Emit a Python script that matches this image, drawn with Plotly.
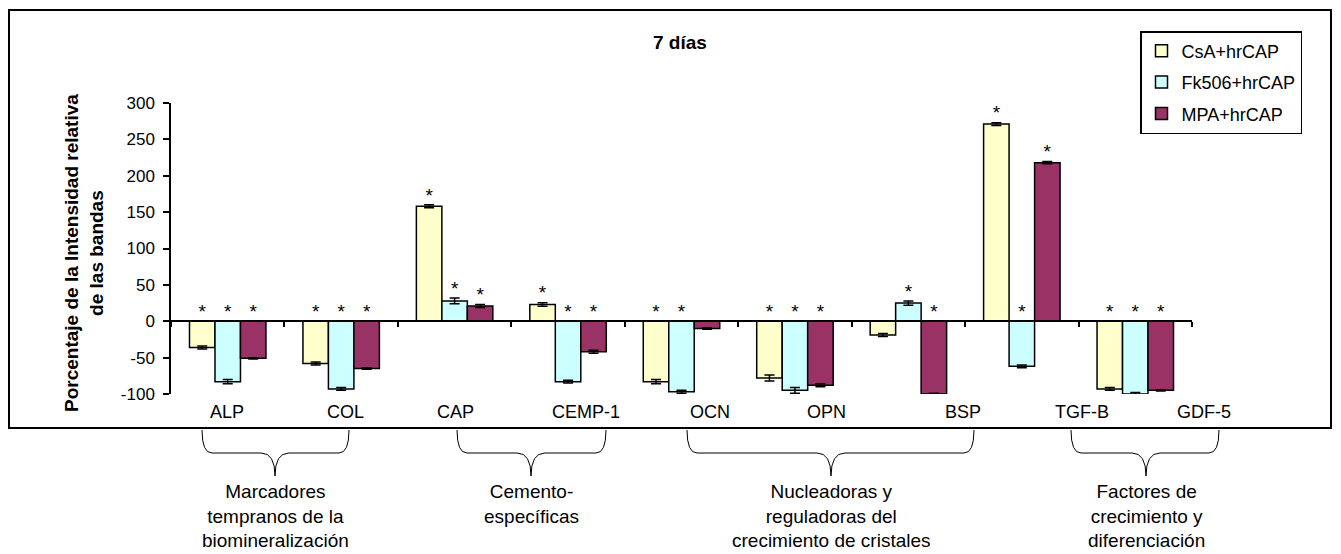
import plotly.graph_objects as go

# ---------------- data ----------------
categories = ["ALP", "COL", "CAP", "CEMP-1", "OCN", "OPN", "BSP", "TGF-B", "GDF-5"]
series_names = ["CsA+hrCAP", "Fk506+hrCAP", "MPA+hrCAP"]
csa = [-36, -58, 158, 23, -83, -78, -19, 271, -93]
fk506 = [-83, -93, 28, -83, -97, -95, 25, -62, -100]
mpa = [-51, -65, 21, -42, -10, -88, -100, 218, -95]
csa_err = [2, 2, 2, 2.5, 3, 4, 2, 2, 2]
fk506_err = [3, 2, 4, 2, 2, 4, 3, 2, 2]
mpa_err = [1, 1, 2, 2, 1, 2, 1, 1.5, 1]
# significance marks (1 = asterisk)
csa_sig = [1, 1, 1, 1, 1, 1, 0, 1, 1]
fk506_sig = [1, 1, 1, 1, 1, 1, 1, 1, 1]
mpa_sig = [1, 1, 1, 1, 0, 1, 1, 1, 1]
y_ticks = [-100, -50, 0, 50, 100, 150, 200, 250, 300]
groups = [
    "Marcadores<br>tempranos de la<br>biomineralización",
    "Cemento-<br>específicas",
    "Nucleadoras y<br>reguladoras del<br>crecimiento de cristales",
    "Factores de<br>crecimiento y<br>diferenciación",
]

# ---------------- style ----------------
colors = ["#FFFFCC", "#CCFFFF", "#993366"]
FONT = "Arial, Liberation Sans, sans-serif"
NARROW = "Liberation Sans Narrow, Arial Narrow, Liberation Sans, Arial, sans-serif"
W_PX, H_PX = 1341, 554
L, R, T, B = 171, 1192, 103, 394

def px(x):
    return (x - L) / (R - L)

def py(y):
    return (B - y) / (B - T)

fig = go.Figure()
vals = [csa, fk506, mpa]
errs = [csa_err, fk506_err, mpa_err]
sigs = [csa_sig, fk506_sig, mpa_sig]

for i, name in enumerate(series_names):
    fig.add_trace(go.Bar(
        x=categories, y=vals[i], name=name, offsetgroup=str(i), legendgroup=str(i),
        marker=dict(color=colors[i], line=dict(color="black", width=1.5)),
        error_y=dict(type="data", array=errs[i], visible=True, color="black",
                     thickness=1.5, width=5),
        hoverinfo="skip",
    ))

for i in range(3):
    ys = [max(v + (e if v > 0 else 0), 0) + 11 for v, e in zip(vals[i], errs[i])]
    txt = ["*" if s else "" for s in sigs[i]]
    fig.add_trace(go.Scatter(
        x=categories, y=ys, text=txt, mode="text", offsetgroup=str(i),
        textposition="middle center", textfont=dict(family=FONT, size=19, color="black"),
        showlegend=False, hoverinfo="skip",
    ))

fig.update_layout(
    width=W_PX, height=H_PX,
    margin=dict(l=L, r=W_PX - R, t=T, b=H_PX - B, pad=0),
    paper_bgcolor="white", plot_bgcolor="white",
    barmode="group", bargap=0.326, bargroupgap=0,
    scattermode="group", scattergap=0.326,
    font=dict(family=FONT, size=17, color="black"),
    showlegend=True,
    legend=dict(
        x=px(1140), y=py(31), xanchor="left", yanchor="top",
        bordercolor="black", borderwidth=1.5, bgcolor="white",
        font=dict(family=FONT, size=18, color="black"),
        tracegroupgap=5, traceorder="grouped",
    ),
    xaxis=dict(
        type="category", range=[-0.5, 8.5], anchor="free", position=0.25,
        showline=True, linecolor="black", linewidth=1.5,
        ticks="outside", tickson="boundaries", ticklen=5, tickcolor="black", tickwidth=1.5,
        showticklabels=False, showgrid=False, zeroline=False, fixedrange=True,
    ),
    yaxis=dict(
        range=[-100, 300], tickvals=y_ticks, ticktext=[str(v) for v in y_ticks],
        showline=True, linecolor="black", linewidth=1.5,
        ticks="outside", ticklen=6, tickcolor="black", tickwidth=1.5,
        showgrid=False, zeroline=False, tickfont=dict(family=FONT, size=17),
        ticklabelstandoff=5,
    ),
)

# frame around the chart
fig.add_shape(type="rect", xref="paper", yref="paper",
              x0=px(9), x1=px(1331), y0=py(428), y1=py(10),
              line=dict(color="black", width=2), layer="below")

# title
fig.add_annotation(text="<b>7 días</b>", xref="paper", yref="paper", x=px(680), y=py(42),
                   showarrow=False, font=dict(family=FONT, size=19), xanchor="center", yanchor="middle")

# y axis title
fig.add_annotation(text="<b>Porcentaje de la Intensidad relativa<br>de las bandas</b>",
                   xref="paper", yref="paper", x=px(84), y=py(253), textangle=-90,
                   showarrow=False, font=dict(family=FONT, size=19), xanchor="center", yanchor="middle")

# category labels (shifted as in the original figure)
label_shift = [-1, 4, 1, 18, 28, 32, 55, 60, 69]
for c, s in zip(categories, label_shift):
    fig.add_annotation(text=c, xref="x", yref="paper", x=c, y=py(412), xshift=s,
                       showarrow=False, font=dict(family=FONT, size=18),
                       xanchor="center", yanchor="middle")

# braces and group labels
braces = [(202, 349, 275), (457, 606, 531), (687, 974, 831), (1071, 1219, 1146)]
y_top, y_mid, y_tip = 430, 453, 476
for (x0, x1, xm), g in zip(braces, groups):
    r, r2 = 10, 14
    pts = [
        f"M {px(x0)},{py(y_top)}",
        f"Q {px(x0)},{py(y_mid)} {px(x0 + r)},{py(y_mid)}",
        f"L {px(xm - r2)},{py(y_mid)}",
        f"Q {px(xm)},{py(y_mid)} {px(xm)},{py(y_tip)}",
        f"Q {px(xm)},{py(y_mid)} {px(xm + r2)},{py(y_mid)}",
        f"L {px(x1 - r)},{py(y_mid)}",
        f"Q {px(x1)},{py(y_mid)} {px(x1)},{py(y_top)}",
    ]
    fig.add_shape(type="path", xref="paper", yref="paper", path=" ".join(pts),
                  line=dict(color="black", width=1))
    fig.add_annotation(text=g, xref="paper", yref="paper", x=px(xm), y=py(479),
                       showarrow=False, font=dict(family=NARROW, size=19),
                       xanchor="center", yanchor="top", align="center")

fig.write_html("out.html", config={"displayModeBar": False})
